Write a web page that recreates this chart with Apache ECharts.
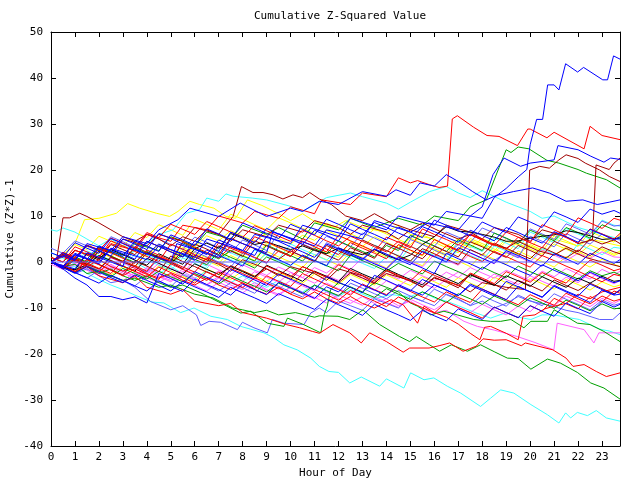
<!DOCTYPE html>
<html><head><meta charset="utf-8">
<script src="https://cdn.jsdelivr.net/npm/echarts@6/dist/echarts.min.js"></script>
<style>html,body{margin:0;padding:0;background:#fff}#c{width:640px;height:480px}</style>
</head><body><div id="c"></div>
<script>
// Half-hour sample times (hours) for the grid-read series
const HOURS = [0,0.5,1,1.5,2,2.5,3,3.5,4,4.5,5,5.5,6,6.5,7,7.5,8,8.5,9,9.5,10,10.5,11,11.5,
  12,12.5,13,13.5,14,14.5,15,15.5,16,16.5,17,17.5,18,18.5,19,19.5,20,20.5,21,21.5,22,22.5,23,23.5,23.75];

// ---- cluster series, values at HOURS ----
const redA = [0,-1.2,-2.3,0.5,-0.6,-1.8,-3,-1.5, -2.7,-3.8,-0.4,-1.6,-2.8,-4,-2.2,-3.4, -4.6,-5.8,-3,-4.2,-5.3,-2.5,-3.7,-4.9, -6,-7.2,-4.8,-6,-7.1,-5.2,-6.4,-7.6, -8.7,-6.5,-7.7,-8.8,-5.9,-7,-8.2,-9.3, -7.1,-8.3,-9.4,-6.8,-8,-9.1,-7.4,-8.5, -8.1];
const darkredA = [1,0,2.6,1.5,0.4,3.8,2.7,1.6, 4.5,3.4,2.2,1.1,3.9,2.8,1.6,5.2, 4,2.9,1.7,0.6,2.4,1.2,0.1,3.6, 2.4,1.3,4.8,3.6,2.5,1.3,0.2,2.9, 1.8,0.6,-0.5,2.7,1.5,4.1,3,1.8, 0.7,3.2,2,0.9,2.6,1.4,3.3,2.2, 1.8];
const greenA = [0,1.6,0.5,-0.6,2.4,1.3,0.1,3, 1.9,0.8,-0.3,1.7,0.6,-0.6,2.2,1, -0.1,-1.3,1.1,0,-1.2,-2.3,0.4,-0.8, -1.9,1.5,0.3,-0.8,-2,-0.3,-1.5,-2.6, 0.2,-1,-2.1,-3.3,-1.1,-2.3,-3.4,-0.9, -2.1,-3.2,-1.4,-2.6,-3.7,-1.9,-3,-2.2, -2.8];
const blueA = [2,1,4.2,3,1.9,5.1,4,2.8, 1.7,3.9,2.7,1.6,0.4,2.6,1.4,0.3, -0.9,2.8,1.6,0.5,-0.7,1.5,0.3,-0.8, 3.1,1.9,0.8,-0.4,-1.5,1,-0.2,-1.3, -2.5,1.9,0.7,-0.4,-1.6,0.5,-0.6,-1.8, -2.9,-0.6,-1.8,-2.9,-4.1,-2.2,-3.4,-4.5, -4.1];
const mblueA = [0,-1.1,-2.2,-0.8,-1.9,1.2,0,-1.1, -2.2,0.9,-0.2,-1.4,2.3,1.1,0,-1.1, 2,0.9,-0.3,3.6,2.4,1.3,0.1,4.2, 3,1.9,0.7,2.9,1.7,0.6,4.9,3.8, 2.6,1.5,3.8,2.6,1.5,0.3,2.1,0.9, 5.6,4.5,3.3,6.2,5,3.9,6.1,5, 4.8];
const magentaA = [-0.5,-1.6,-0.6,-1.8,-2.9,-1.2,-2.4,-3.5, -2,-3.2,-4.3,-2.6,-3.8,-4.9,-3.1,-4.3, -5.4,-3.6,-4.8,-5.9,-4,-5.2,-6.3,-4.6, -5.8,-6.9,-5,-6.2,-4.1,-5.3,-3.4,-4.6, -5.7,-3.8,-2.2,-3.4,-4.5,-2.6,-3.8,-4.9, -3,-4.2,-5.3,-3.3,-4.5,-2.4,-3.6,-4.7, -4];
const yellowA = [0,-1,0.7,-0.4,2.1,1,3.6,2.4, 1.3,3.7,2.6,1.4,3.2,5.7,4.6,6.8, 5.6,4.5,6.3,5.1,3.9,5.8,4.7,6.9, 5.7,4.6,3.4,5.5,4.3,3.1,5.2,4, 2.9,1.7,4.3,3.1,5.1,3.9,2.8,1.6, 3.8,2.6,1.4,3.3,2.2,1,2.9,1.7, 2.4];
const cyanA = [0,1.3,0.2,-0.9,1.5,0.4,-0.8,2.7, 1.5,0.4,-0.8,1.4,0.3,-0.9,3.2,2, 0.9,-0.3,1.8,0.6,3.9,2.7,1.6,0.4, 2.6,1.4,0.3,3.7,2.5,1.4,0.2,2.6, 1.4,0.3,4.6,3.4,2.3,5.2,4.1,2.9, 6.5,5.4,4.2,7.3,6.1,5,9.1,8, 7.8];
const blackA = [0,-1.2,-1.7,1.8,0.7,2.7,1.6,0.4, -0.7,1.8,0.6,-0.5,2.9,4.1,3,6.2, 5.2,3.8,4.4,3.5,2.7,3.5,2.5,1.8, 3,2.2,1.6,2.7,1.4,0.5,1.5,3.8, 5.5,7.7,6.7,6.5,6,5.4,4.5,4.6, 5.2,5.6,5.9,6.8,6.4,5.7,4.9,5.1, 5.2];
const redB = [1,0,3.3,2.2,1,4.6,3.5,2.3, 1.2,0.1,3.9,2.8,1.6,0.5,4.2,3, 1.9,5.5,4.4,3.2,2.1,4.5,3.3,2.2, 5.8,4.6,3.5,2.3,5.4,4.3,3.1,7.2, 6,4.9,3.7,5.9,4.8,3.6,6.5,5.4, 4.2,8.1,7,5.8,9.6,8.5,7.3,9.5, 9.1];
const darkredB = [0,-1.1,-2.2,0.6,-0.5,-1.7,-2.8,0.2, -0.9,-2.1,1.3,0.1,-1,-2.2,-3.3,-0.8, -1.9,-3.1,-1.5,-2.7,-3.8,-1,-2.2,-3.3, -4.5,-2.4,-3.5,-4.7,-1.9,-3.1,-4.2,-5.4, -3.3,-4.4,-5.6,-2.6,-3.8,-4.9,-6.1,-4, -5.1,-6.3,-3.9,-5.1,-6.2,-4.6,-5.8,-6.9, -6.2];
const greenB = [0,-1.2,1.1,0,3.3,2.1,1,-0.1, 2.3,1.1,0,4.2,3,1.9,0.7,2.5, 1.3,0.2,3.7,2.5,1.4,0.2,2.9,1.8, 4.6,3.4,2.3,1.1,3.6,2.5,5.8,4.6, 3.5,2.3,4.8,3.7,2.5,6.3,5.2,4, 6.9,5.8,4.6,7.5,6.4,5.2,8.1,7, 6.8];
const blueB = [0,1.4,0.3,3.6,2.5,1.3,5,3.9, 2.7,6.2,5.1,3.9,2.8,1.6,4.8,3.7, 2.5,1.4,5.6,4.5,3.3,2.2,1,3.9, 2.8,1.6,0.5,2.8,1.7,0.5,-0.6,2.3, 1.2,0,3.1,2,0.8,-0.3,2.5,1.4, 0.2,-0.9,1.8,0.7,-0.5,1.9,0.8,-0.3, 0.5];
const mblueB = [0,-1.2,-2.3,-3.5,-1.8,-3,-4.1,-5.2, -3.1,-4.2,-5.4,-2.8,-4,-5.1,-6.3,-4.5, -5.6,-6.8,-4.2,-5.3,-6.5,-7.6,-5.1,-6.3, -7.4,-4.6,-5.7,-6.9,-8,-6.2,-7.4,-8.5, -5.9,-7.1,-8.2,-9.4,-7.3,-8.5,-9.6,-7.2, -8.4,-9.5,-6.9,-8.1,-9.2,-10.4,-8.3,-9.4, -9];
const magentaB = [0,-1.1,0.4,-0.7,-1.8,0.9,-0.2,-1.4, -2.5,-0.3,-1.4,-2.6,0.6,-0.5,-1.7,-2.8, -0.6,-1.8,-2.9,-1.1,-2.2,-3.4,-1.2,-2.4, -0.4,-1.6,0.9,-0.3,-1.4,1.2,0,-1.1, 1.6,0.4,-0.7,1.9,0.8,-0.4,2.3,1.1, 0,2.6,1.5,0.3,1.9,0.8,2.2,1.1, 1];
const yellowB = [0,1.8,0.7,-0.4,2.4,1.3,0.1,-1, 1.9,0.8,-0.4,2.6,1.4,0.3,-0.9,1.4, 0.2,-0.9,2.3,1.1,0,-1.2,1.6,0.5, -0.7,2.2,1,-0.1,-1.3,1.5,0.3,-0.8, 2.5,1.3,0.2,-1,1.8,0.6,-0.5,2.4, 1.2,0.1,-1.1,1.2,0.1,-1.1,0.6,-0.5, -1];
const cyanB = [2,0.9,-0.2,2.4,1.3,0.1,-1,1.6, 0.5,-0.7,-1.8,0.9,-0.3,-1.4,1.7,0.5, -0.6,2.6,1.5,0.3,-0.8,1.4,0.3,-0.9, 2,0.9,-0.3,-1.4,1.2,0,3.4,2.3, 1.1,0,2.6,1.4,0.3,3.5,2.4,1.2, 0.1,2.9,1.8,0.6,3.9,2.8,1.6,3.2, 3];
const blackB = [0,-1.1,-1.7,-0.6,1.4,0.3,-0.9,-2, 0.8,-0.3,-1.5,-2.6,-0.4,-1.6,-2.7,-1, -2.1,-3.3,-0.7,-1.9,-3,-4.2,-2,-3.1, -4.3,-1.4,-2.6,-3.7,-1.5,-2.7,-3.8,-5, -2.4,-3.6,-4.7,-2.8,-3.9,-5.1,-3,-4.1, -5.3,-3.2,-4.4,-5.5,-3.5,-4.6,-3.1,-4.2, -4];
const redC = [0,1.5,0.4,-0.7,3.1,2,0.8,-0.3, 2.6,1.5,0.3,4.4,3.2,2.1,0.9,3.3, 2.2,1,-0.1,2.4,1.2,5.1,3.9,2.8, 1.6,4.2,3,1.9,0.7,3.8,2.6,1.5, 4.9,3.7,2.6,6.1,5,3.8,2.7,5.4, 4.2,3.1,6.4,5.3,4.1,7.2,6.1,5, 6.2];
const blueC = [0,-1.1,1.9,0.8,-0.4,2.9,1.8,0.6, 4.5,3.4,2.2,1.1,4.6,3.5,2.3,6.5, 5.4,4.2,7.3,6.1,5,3.8,6.9,5.8, 4.6,8.3,7.1,6,4.8,7.6,6.5,5.3, 9.1,8,6.8,5.7,8.7,7.5,6.4,9.8, 8.7,7.5,10.9,9.8,8.6,11.5,10.4,11.2, 10.6];
const yellowC = [0,-1.1,0.8,-0.3,-1.5,1.3,0.2,-1, 2.1,1,-0.2,3.2,2,0.9,-0.3,2.6, 1.5,0.3,4.2,3.1,1.9,0.8,3.3,2.1, 1,4.5,3.4,2.2,1.1,3.6,2.5,1.3, 4.3,3.1,2,5.1,4,2.8,1.7,4.6, 3.5,2.3,5.7,4.6,3.4,6.6,5.5,4.3, 6];
const magentaC = [0,-1.2,-0.3,-1.5,-2.6,-0.8,-1.9,-3.1, -1.2,-2.4,-3.5,-1.5,-2.6,-3.8,-1.9,-3, -4.2,-2.1,-3.3,-4.4,-2.3,-3.4,-4.6,-2.9, -4,-2.2,-3.4,-4.5,-2.5,-3.7,-1.8,-3, -4.1,-2.2,-3.4,-1.2,-2.4,-3.5,-1.8,-2.9, -4.1,-2,-3.2,-1.4,-2.6,-3.7,-1.6,-2.8, -2];
const greenC = [0,-1.2,-2.3,-0.9,-2,-3.2,-1.4,-2.5, -3.7,-2,-3.2,-4.3,-2.5,-3.6,-4.8,-3, -4.2,-5.3,-6.5,-4.6,-5.7,-6.9,-5,-6.2, -7.3,-5.4,-6.6,-7.7,-5.8,-7,-8.1,-6.5, -7.6,-8.8,-6.9,-8,-9.2,-7.4,-8.5,-9.7, -7.8,-8.9,-10.1,-8.3,-9.4,-10.6,-9.1,-10.2, -10];
const blueD = [0,-1.2,-2.3,-3.4,-4.6,-2.9,-4,-5.2, -6.3,-4.1,-5.3,-6.4,-3.7,-4.9,-6,-7.2, -4.8,-6,-7.1,-4.4,-5.6,-6.7,-7.9,-5.4, -6.5,-3.8,-5,-6.1,-7.3,-4.9,-6.1,-7.2, -5,-6.1,-7.3,-4.8,-5.9,-7.1,-8.2,-5.3, -6.5,-7.6,-5.1,-6.3,-7.4,-4.8,-6,-7.1, -6];
const darkredC = [0,1.7,0.6,-0.5,2.4,1.2,0.1,3.3, 2.1,1,-0.2,2.3,1.1,0,3.5,2.4, 1.2,4.6,3.5,2.3,1.2,3.8,2.7,1.5, 0.4,3.1,2,0.8,4.1,3,1.8,0.7, 3.4,2.3,1.1,4.4,3.3,2.1,1,3.6, 2.5,1.3,4.5,3.4,2.2,5,3.9,4.8, 4];
const mblueC = [3,1.9,4.6,3.5,2.3,5.5,4.4,3.2, 6.1,5,3.8,2.7,5.4,4.3,3.1,2, 4.8,3.7,2.5,6.2,5.1,3.9,2.8,5.6, 4.5,3.3,6.3,5.2,4,2.9,5.7,4.6, 3.4,6.5,5.4,4.2,7.4,6.3,5.1,4, 7.2,6.1,4.9,8.3,7.2,6,8.9,7.8, 8];
const yellowD = [0,-1.2,-2.3,-0.5,-1.6,-2.8,-1,-2.1, -3.3,-0.8,-1.9,-3.1,-4.2,-1.5,-2.7,-3.8, -1.9,-3,-4.2,-2.3,-3.4,-4.6,-2.6,-3.7, -4.9,-2.7,-3.9,-5,-2.8,-4,-5.1,-3.2, -4.3,-5.5,-3.4,-4.6,-5.7,-3.3,-4.5,-5.6, -3.6,-4.7,-5.9,-3.8,-4.9,-6.1,-4.3,-5.4, -5];
const redD = [0,-1.2,0.9,-0.2,-1.4,-2.5,0.3,-0.8, -2,1.2,0.1,-1.1,-2.2,0.9,-0.2,-1.4, -2.5,-3.7,-0.9,-2,-3.2,-1,-2.1,-3.3, -0.6,-1.8,-2.9,-4.1,-1.8,-2.9,-4.1,-1.7, -2.9,-4,-5.2,-2.4,-3.5,-4.7,-2.1,-3.2, -4.4,-2.3,-3.5,-4.6,-2,-3.2,-4.3,-2.7, -3];
const blueE = [0,-1.5,-3.5,-5,-7.5,-7.5,-8.2,-7.6, -8.9,-2.5,-3.6,-4.8,-2.1,-3.3,-4.4,-1.6, -2.8,-3.9,-5.1,-2.6,-3.7,-4.9,-6,-3.2, -4.4,-5.5,-6.7,-2.9,-4,-5.2,-6.3,-3.8, -5,-6.1,-7.3,-5.1,-6.2,-7.4,-4.2,-5.4, -6.5,-7.7,-5.3,-6.5,-7.6,-8.8,-6.1,-7.2, -7];
const blueF = [0,-1.2,-2.4,-1,-2.2,-3.4,-4.5,-2.8, -4,-5.1,-6.3,-4.2,-5.4,-6.5,-7.7,-5.5, -6.7,-7.8,-9,-6.9,-8,-9.2,-10.3,-8.1, -9.3,-10.4,-11.6,-9.2,-10.4,-11.5,-12.7,-10.5, -11.7,-12.8,-10.2,-11.4,-12.5,-9.8,-11,-12.1, -9.5,-10.7,-11.8,-8.9,-10.1,-11.2,-8.6,-9.8, -9.2];
const redE = [0,1.2,0.1,-1,-2.2,0.3,-0.9,-2, -3.2,-1.1,-2.3,-3.4,-4.6,-2.1,-3.3,-4.4, -5.6,-3.4,-4.6,-5.7,-6.9,-4.8,-6,-7.1, -8.3,-6.2,-7.4,-8.5,-9.7,-7.6,-8.8,-9.9, -11.1,-8.7,-9.9,-11,-12.2,-9.8,-11,-12.1, -9.5,-10.7,-7.9,-9.1,-10.2,-7.5,-8.7,-6.3, -6.8];
const magentaD = [0,-1.1,-2.3,-0.6,-1.8,-2.9,-4.1,-2.2, -3.4,-4.5,-2.8,-4,-5.1,-6.3,-4.4,-5.6, -6.7,-5,-6.2,-7.3,-5.4,-6.6,-7.7,-8.9, -7.1,-8.3,-9.4,-7.6,-8.8,-9.9,-8.1,-9.3, -10.4,-8.7,-9.9,-11,-9.2,-10.4,-11.5,-9.6, -10.8,-8.3,-9.5,-7.4,-8.6,-9.7,-7.9,-9, -8.3];
const yellowE = [0,1.5,3.8,2.7,5.6,4.5,3.3,6.4, 5.3,8.1,7,5.8,9.3,8.2,7,10.4, 9.3,8.1,7,9.6,8.5,7.3,6.2,8.4, 7.3,6.1,5,7.2,6.1,4.9,3.8,5.9, 4.8,3.6,2.5,4.7,3.6,2.4,5.1,4, 2.8,1.7,3.9,2.8,1.6,3.7,2.6,1.4, 2];
const blueG = [0,-1,1.7,0.6,3.5,2.4,1.2,4.6, 3.5,2.3,5.9,4.8,3.6,7.2,6.1,4.9, 8.5,7.4,6.2,5.1,8.2,7.1,5.9,9.3, 8.2,7,5.9,8.6,7.5,6.3,5.2,7.7, 6.6,5.4,4.3,6.9,5.8,4.6,7.5,6.4, 5.2,4.1,6.6,5.5,4.3,7.1,6,4.8, 5.5];
const redF = [0,2.1,1,3.7,2.6,5.2,4.1,3, 6.4,5.3,8.2,7.1,6,8.8,7.7,6.5, 5.4,7.9,6.8,5.6,4.5,6.9,5.8,4.6, 3.5,5.6,4.5,3.3,2.2,4.5,3.4,2.2, 1.1,3.5,2.4,1.2,0.1,2.3,1.2,0, -1.1,1.4,0.3,-0.9,-2,0.4,-0.7,-1.9, -1.5];

// ---- distinct series, [hour, value] readings ----
const blueTop = [[0,0],[1,-1.5],[1.5,2],[3,-1],[3.25,3],[5,0],[5.25,4],[7,1],[7.5,5],[9,2],[9.25,6.5],[11,3.5],[11.5,7],[13,5],[13.5,9],[15,6.5],[15.75,8.5],[17,7],[17.5,10],[18,9.5],[18.5,14],[19,16],[19.5,18.5],[19.86,20.1],[20,25.5],[20.27,31],[20.52,31],[20.73,38.5],[21,38.5],[21.2,37.4],[21.48,43.1],[21.98,41.3],[22.23,42.3],[23.03,39.6],[23.23,39.6],[23.48,44.8],[23.75,44.1]];
const redSpike = [[0,0],[0.5,-1],[1,2.5],[2,1],[2.5,4],[3.5,2.5],[4,6],[5,4.5],[5.5,8],[6.5,7],[7,10],[8,8.5],[8.5,11],[9.5,9.5],[10,12],[11,10.5],[11.3,13.5],[12.5,12.5],[13,15],[14,14.2],[14.5,18.3],[15,17.2],[15.3,17.7],[15.8,16.8],[16.2,16.2],[16.55,16.5],[16.75,31.1],[16.96,31.8],[17.64,29.3],[18.2,27.5],[18.7,27.3],[19.47,25.3],[19.9,28.9],[20,28.9],[20.7,27],[21,28.2],[22.25,24.6],[22.5,29.5],[23,27.5],[23.75,26.6]];
const cyanLow = [[0,0],[0.5,-1.2],[1,-1],[1.5,-2.5],[2,-3.8],[2.5,-5],[3,-6],[3.5,-7.2],[4.2,-8.7],[4.71,-8.9],[5.41,-11],[5.97,-10],[6.67,-11.8],[7.36,-12.5],[7.92,-14],[8.33,-14.6],[8.89,-15.4],[9.31,-16.5],[9.72,-18],[10.28,-19.1],[10.84,-20.9],[11.2,-22.7],[11.6,-23.8],[12,-24],[12.47,-26.3],[12.95,-25],[13.72,-27],[14,-25.4],[14.18,-25.9],[14.73,-27.4],[15.01,-24.1],[15.57,-25.6],[15.98,-25.2],[16.54,-27],[17.1,-28.5],[17.93,-31.4],[18.35,-29.6],[18.77,-27.8],[19.32,-28.5],[20.03,-31],[20.72,-33.2],[21.2,-35],[21.48,-32.8],[21.69,-33.9],[21.97,-32.7],[22.39,-33.4],[22.76,-32.3],[23.18,-33.9],[23.75,-34.6]];
const redLow = [[0,0],[0.5,-0.8],[1,-2],[1.5,-1],[2,-3],[3,-4.5],[3.5,-3],[4,-5.5],[5,-7],[5.5,-6],[6,-8.5],[7,-9.5],[7.5,-9],[8,-11],[9,-12.2],[9.82,-13.6],[10.38,-14.3],[10.92,-15.1],[11.2,-15.5],[11.77,-13.6],[12.47,-15.4],[12.95,-17.6],[13.3,-15.4],[14,-17.3],[14.7,-19.6],[14.97,-18.7],[15.78,-18.7],[16.2,-18.2],[16.64,-17.6],[17.2,-19.4],[17.75,-18.3],[18.03,-16.7],[18.5,-17],[19,-16.9],[19.63,-18.2],[19.8,-17.6],[20.95,-19.1],[21.5,-20.9],[21.79,-22.7],[22.25,-22.3],[22.76,-23.8],[23.18,-24.9],[23.75,-24.1]];
const greenLow = [[0,0],[0.5,-1],[1,-0.5],[1.5,-2.5],[2,-2],[3,-4],[3.5,-3.5],[4.5,-5.5],[5,-5],[6,-7],[6.76,-7.8],[7.59,-10],[8,-10.4],[8.5,-11],[9,-10.5],[9.5,-11.5],[10.2,-11],[11,-12],[11.2,-11.7],[11.98,-11.8],[12.47,-12.5],[13.02,-10.4],[13.72,-13.6],[14.55,-16.2],[14.97,-17.3],[15.25,-16.2],[15.8,-18],[16.22,-19.4],[16.71,-18],[17.38,-19.4],[17.93,-18],[18.5,-19.5],[19.05,-20.9],[19.5,-21],[20.03,-23.3],[20.72,-21.1],[21.27,-22],[21.97,-24],[22.53,-26.3],[23.08,-27.4],[23.75,-29.8]];
const greenHigh = [[0,0],[0.5,1.5],[1.5,0],[2,3],[3,1.5],[3.5,4],[4.5,2.5],[5,5.5],[6,3.5],[6.5,6.5],[7.5,5],[8,8],[9,6],[9.5,7.5],[10.5,5],[11,8.5],[12,7],[12.5,9.5],[13.5,7.5],[14.5,9.5],[15.5,8],[16,10],[17,9],[17.5,12],[18.17,13.5],[18.7,20.5],[19.0,24.4],[19.2,23.8],[19.5,25],[19.95,24.6],[20.7,22.1],[21.2,21.5],[22,20.1],[22.35,19.3],[23.18,17.9],[23.75,16.1]];
const blueHigh = [[0,0],[0.5,-1],[1,1.5],[2,0],[2.5,3],[4,0.5],[4.5,3.5],[6,1],[6.5,5],[8,2.5],[8.5,6],[10,4],[10.5,8],[12,5.5],[12.5,9.5],[14,7],[14.5,10],[16,8],[16.5,11],[17.5,10],[18,12],[18.45,19],[18.91,22.6],[19.6,20.8],[20,21.5],[21,22.2],[21.16,25.3],[22,24.4],[22.53,23],[23.08,21.7],[23.36,22.6],[23.75,22.3]];
const darkredJumpA = [[0,0],[0.5,-1.5],[1,0.5],[2,-1.5],[2.5,1],[3.5,-1],[4,2],[5,0],[5.5,-1.5],[6,1.5],[7,-0.5],[7.5,-2],[8,0.5],[9,-1.5],[9.5,-3],[10,-1],[11,-2.5],[11.5,-4],[12,-1.5],[13,-3],[13.5,-4.5],[14,-2.5],[15,-4],[15.5,-5.5],[16,-3.5],[17,-5],[17.5,-6.5],[18,-4.5],[19,-5.5],[19.8,-6],[19.98,20],[20.4,20.8],[20.8,20.4],[21.2,22.2],[21.5,23.3],[22,22.5],[22.3,21.5],[22.9,20],[23.3,18.6],[23.75,17.5]];
const darkredJumpB = [[0,0],[0.5,2],[1,1],[1.5,3.5],[2.5,2],[3,5],[4,3.5],[4.5,6],[5.5,4.5],[6,7.5],[7,6],[7.5,4.5],[8,7],[9,5.5],[9.5,8],[10.5,6.5],[11,9],[12,7.5],[12.5,6],[13,8],[14,6.5],[14.5,5],[15,7],[16,5.5],[16.5,8],[17.5,6.5],[18,5],[18.5,7.5],[19.5,6],[20,4.5],[20.5,7],[21.5,5.5],[22,4],[22.6,4.8],[22.75,21.1],[23.3,20.1],[23.5,21.5],[23.75,22.6]];
const bluePeak = [[0,0],[0.5,2],[1,0.5],[1.5,4],[2.5,2.5],[3,5.5],[4,4],[4.5,7],[5.3,9.2],[5.8,11.7],[7,9.9],[7.9,12.8],[9,9.9],[10,11.7],[10.5,11],[11.2,13.2],[12,12.5],[13,15.3],[14,14.3],[14.4,15.7],[15,14.5],[15.4,17.2],[16,16.5],[16.5,19],[17,17.5],[17.6,15.3],[18.17,13.5],[18.6,14.5],[19.3,15.3],[20.1,16.1],[20.8,15],[21.5,13.2],[22.2,13.5],[22.8,12.5],[23.3,13],[23.75,13.5]];
const cyanTop = [[0,7],[0.25,6.7],[0.5,7.4],[1,6.5],[1.5,5],[2,3.5],[2.5,5],[3,3.5],[3.5,2.5],[4,4],[4.5,6],[5.1,7],[5.65,10.6],[6.2,11.4],[6.5,13.9],[7,13.2],[7.3,14.8],[7.6,14.3],[8.4,13.9],[9,13.5],[10,12.1],[10.5,11],[11,12.5],[11.5,14],[12.5,15],[13,14.2],[14,12.8],[14.5,11.5],[15,13],[15.8,15.3],[16.5,16.4],[17,15],[17.5,14],[18,15.5],[19,13],[20,11],[20.5,9.5],[21,10],[22,7.5],[23,6],[23.75,5]];
const darkredEarly = [[0,0],[0.25,1],[0.5,9.6],[0.78,9.6],[1.2,10.6],[1.5,9.9],[2,8.5],[2.5,7],[3,5.5],[3.5,4.5],[4,6],[4.5,5],[5,3.5],[5.5,5.5],[6,4.5],[6.5,7],[7,6],[7.6,9.9],[7.95,16.4],[8.43,15.1],[8.85,15.1],[9.27,14.6],[9.68,13.7],[10.1,14.6],[10.5,14],[10.8,15.1],[11.2,13.7],[11.7,12.5],[12.3,10],[13,9],[13.5,10.5],[14.2,8.5],[15,7],[15.5,8.5],[16.3,6.5],[17,5],[17.5,6],[18.3,4],[19,3],[19.5,4.5],[20.3,2.5],[21,1.5],[21.5,3],[22.3,1],[23,0],[23.75,-1]];
const yellowHigh = [[0,0],[0.5,1.5],[1,4],[1.4,9.2],[2,9.5],[2.73,10.6],[3.2,12.7],[3.7,11.7],[4.4,10.6],[4.95,9.9],[5.3,11],[5.8,13.2],[6.2,12.5],[6.8,11.7],[7.3,9.9],[7.7,9.5],[8.2,13.5],[8.8,12.3],[9.5,10.5],[10,9],[10.5,10.5],[11,8.8],[11.8,7.5],[12.3,9],[13,7.5],[14,6.5],[14.5,8],[15,6],[16,5],[16.5,3.5],[17,5],[18,3.5],[18.5,2],[19,4.5],[20,3],[20.5,6],[21,5],[22,3.5],[22.5,5],[23.75,3.5]];
const mblueLow = [[0,0],[0.5,-1.2],[1,-2.5],[1.5,-1.5],[2,-3],[2.5,-4.5],[3,-4],[3.5,-5.5],[4.16,-8.6],[5,-10.4],[5.5,-9.5],[6.07,-11.5],[6.25,-13.8],[6.6,-12.9],[7.08,-13.1],[7.78,-14.7],[7.99,-13.1],[8.47,-14.3],[9.03,-15.4],[9.24,-12.5],[9.72,-13.3],[10.56,-13.6],[10.84,-11.1],[11.2,-10],[11.5,-11],[12,-8.5],[12.5,-9.5],[13,-10.5],[13.5,-8],[14,-9],[14.5,-10],[15,-7.5],[15.5,-8.5],[16,-9.5],[16.5,-7],[17,-8],[17.5,-9.5],[18,-8.5],[18.5,-10],[19,-9],[19.5,-7.5],[20,-8.5],[20.95,-9.6],[21.5,-10.5],[22,-11],[22.9,-12.5],[23.45,-12.5],[23.75,-11.1]];
const greenRise = [[0,0],[0.5,-1],[1,0.5],[1.5,-1],[2,-2.5],[2.5,-1.5],[3,-3],[3.5,-4],[4,-3],[4.5,-4.5],[5,-5.5],[5.5,-5],[6.25,-6.7],[7.08,-8.9],[7.92,-11.1],[8.33,-10.7],[9.03,-13.3],[9.72,-14],[9.87,-12.2],[10.5,-13.5],[11.26,-15.4],[11.4,-11.5],[11.53,-9.6],[11.67,-6],[12,-4.5],[12.5,-5.5],[13,-6.5],[13.5,-4.5],[14,-5.5],[14.5,-6.5],[15,-8.9],[15.3,-9.6],[15.85,-11.5],[16.4,-10.7],[16.96,-11.5],[17.65,-12.5],[18.35,-12.9],[18.77,-12.9],[19.2,-12.5],[19.74,-14.3],[20.03,-12.9],[20.72,-12.9],[21,-10.4],[21.4,-11.5],[21.97,-13.3],[22.5,-13.6],[23.08,-15.1],[23.75,-17.3]];
const redMid = [[0,0],[0.5,1.5],[1,0.5],[1.5,-1],[2,0.5],[2.5,-1],[3,-2],[3.5,-1],[4,-2.5],[4.5,-3.5],[5,-2.5],[5.5,-4],[6,-5],[6.5,-3.5],[7,-5],[7.5,-6],[8,-4.5],[8.5,-6],[9,-7],[9.5,-5.5],[10,-7],[10.5,-8],[11,-6.5],[11.5,-8],[12,-9],[12.5,-7.5],[13,-9],[13.5,-10],[14.2,-8.2],[14.7,-9.3],[15.3,-13.3],[15.57,-9.6],[16,-11],[16.5,-12],[17,-13.5],[17.5,-15.5],[17.9,-16.9],[18.1,-14.2],[18.35,-14],[19,-15.5],[19.5,-16.9],[19.7,-11.8],[20.2,-11.5],[20.6,-10.2],[21,-9.6],[21.5,-9],[22,-7],[22.5,-8],[23,-6.5],[23.75,-5.5]];
const cyanMid = [[0,0],[0.5,1],[1,-0.5],[1.5,-1.5],[2,0.5],[2.5,-1],[3,-2],[3.5,0],[4,-1.5],[4.5,-2.5],[5,-1],[5.5,-2.5],[6,-3.5],[6.5,-2],[7,-3.5],[7.5,-4.5],[8,-3],[8.5,-4.5],[9,-5.5],[9.5,-4],[10,-5.5],[10.5,-6.5],[11,-5],[11.5,-6.5],[12,-7.5],[12.5,-6],[13,-7],[13.5,-8],[14.18,-7.1],[15,-7.5],[15.5,-6.5],[16,-7.8],[16.5,-8.5],[17,-9.5],[17.7,-11],[18.35,-12.2],[19,-11],[19.5,-12],[20.03,-12.5],[20.5,-11.5],[21,-11.5],[21.5,-12],[22.06,-12.5],[22.9,-14.6],[23.3,-15],[23.75,-15.8]];
const magentaLow = [[0,0],[0.5,-1],[1,0.5],[1.5,-1],[2,-2],[2.5,-0.5],[3,-2],[3.5,-3],[4,-1.5],[4.5,-3],[5,-4],[5.5,-2],[6,-3.5],[6.5,-5],[7,-3.5],[7.5,-5],[8,-6],[8.5,-4.5],[9,-6],[9.5,-7],[10,-5.5],[10.5,-7],[11,-8],[11.5,-6.5],[12,-8],[12.5,-9],[13,-7.5],[13.5,-9],[14,-8],[14.5,-9.5],[15,-8.5],[15.57,-10.4],[16,-11],[16.5,-10.5],[17.24,-12.9],[17.8,-14],[18.5,-14.8],[19.46,-16.2],[20.2,-17.5],[20.99,-19.1],[21.13,-13.3],[22.25,-14.7],[22.66,-17.6],[22.87,-15.4],[23.75,-15.4]];
const zeroLine = [[0,0],[23.75,0]];

const COLORS = {red:'#ff0000', darkred:'#a00000', green:'#00a000', blue:'#0000ff', mblue:'#6060ff',
  magenta:'#ff60ff', cyan:'#40ffff', yellow:'#ffff00', black:'#000000'};

const onGrid = vals => vals.map((v, i) => [HOURS[i], v]);

const lines = [
  ['yellow', onGrid(yellowA)], ['yellow', onGrid(yellowB)], ['yellow', onGrid(yellowC)], ['yellow', onGrid(yellowD)],
  ['yellow', onGrid(yellowE)], ['yellow', yellowHigh],
  ['cyan', onGrid(cyanA)], ['cyan', onGrid(cyanB)], ['cyan', cyanTop], ['cyan', cyanMid], ['cyan', cyanLow],
  ['magenta', onGrid(magentaA)], ['magenta', onGrid(magentaB)], ['magenta', onGrid(magentaC)], ['magenta', onGrid(magentaD)], ['magenta', magentaLow],
  ['mblue', onGrid(mblueA)], ['mblue', onGrid(mblueB)], ['mblue', onGrid(mblueC)], ['mblue', mblueLow],
  ['green', onGrid(greenA)], ['green', onGrid(greenB)], ['green', onGrid(greenC)], ['green', greenLow], ['green', greenHigh], ['green', greenRise],
  ['darkred', onGrid(darkredA)], ['darkred', onGrid(darkredB)], ['darkred', onGrid(darkredC)], ['darkred', darkredEarly], ['darkred', darkredJumpA], ['darkred', darkredJumpB],
  ['black', onGrid(blackA)], ['black', onGrid(blackB)],
  ['red', onGrid(redA)], ['red', onGrid(redB)], ['red', onGrid(redC)], ['red', onGrid(redD)], ['red', onGrid(redE)], ['red', onGrid(redF)],
  ['red', redLow], ['red', redMid], ['red', redSpike],
  ['blue', onGrid(blueA)], ['blue', onGrid(blueB)], ['blue', onGrid(blueC)], ['blue', onGrid(blueD)], ['blue', onGrid(blueE)],
  ['blue', onGrid(blueF)], ['blue', onGrid(blueG)],
  ['blue', blueHigh], ['blue', bluePeak], ['blue', blueTop],
  ['mblue', zeroLine]
];

const FONT = 'DejaVu Sans Mono';
const txt = {color:'#000', fontFamily: FONT, fontSize: 11};

const chart = echarts.init(document.getElementById('c'), null, {renderer:'canvas'});
chart.setOption({
  animation: false,
  backgroundColor: '#fff',
  title: {text:'Cumulative Z-Squared Value', left: 335, top: 6, textAlign: 'center',
    textStyle: {color:'#000', fontFamily: FONT, fontSize: 11, fontWeight: 'normal'}},
  grid: {left: 51, right: 20, top: 32, bottom: 34, containLabel: false, outerBoundsMode: 'none'},
  xAxis: [
    {type:'value', min:0, max:23.75, interval:1, position:'bottom',
     name:'Hour of Day', nameLocation:'middle', nameGap:22, nameTextStyle: txt,
     axisLine:{onZero:false, lineStyle:{color:'#000', width:1}},
     axisTick:{inside:true, length:5, lineStyle:{color:'#000'}},
     axisLabel:{...txt, margin:6, formatter: v => (Math.abs(v - Math.round(v)) < 1e-9 ? String(Math.round(v)) : '')},
     splitLine:{show:false}},
    {type:'value', min:0, max:23.75, interval:1, position:'top',
     axisLine:{onZero:false, lineStyle:{color:'#000', width:1}},
     axisTick:{inside:true, length:5, lineStyle:{color:'#000'}},
     axisLabel:{show:false}, splitLine:{show:false}}
  ],
  yAxis: [
    {type:'value', min:-40, max:50, interval:10, position:'left',
     name:'Cumulative (Z*Z)-1', nameLocation:'middle', nameGap:35, nameRotate:90, nameMoveOverlap:false, nameTextStyle: txt,
     axisLine:{onZero:false, lineStyle:{color:'#000', width:1}},
     axisTick:{inside:true, length:5, lineStyle:{color:'#000'}},
     axisLabel:{...txt, margin:8}, splitLine:{show:false}},
    {type:'value', min:-40, max:50, interval:10, position:'right',
     axisLine:{onZero:false, lineStyle:{color:'#000', width:1}},
     axisTick:{inside:true, length:5, lineStyle:{color:'#000'}},
     axisLabel:{show:false}, splitLine:{show:false}}
  ],
  series: lines.map(([c, d]) => ({
    type:'line', data:d, xAxisIndex:0, yAxisIndex:0, symbol:'none', showSymbol:false,
    smooth:false, silent:true, lineStyle:{color: COLORS[c], width:1}, emphasis:{disabled:true}
  }))
});
</script>
</body></html>
